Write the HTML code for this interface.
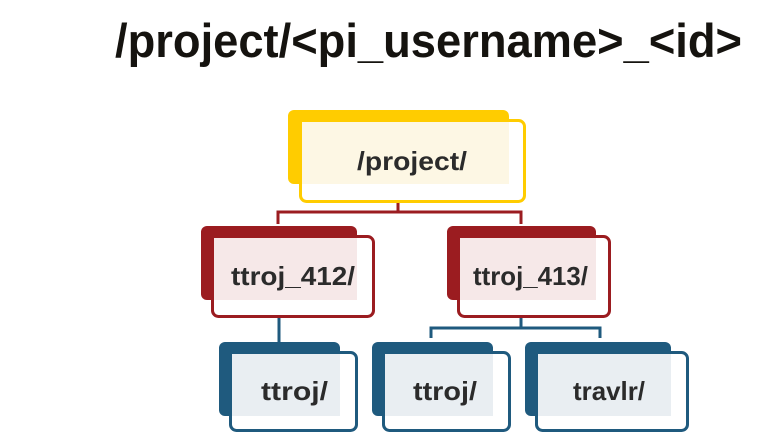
<!DOCTYPE html>
<html><head><meta charset="utf-8"><style>
html,body{margin:0;padding:0;background:#fff;}
svg{display:block}
text{font-family:"Liberation Sans",sans-serif;font-weight:bold;fill:#2b2b2b}
</style></head><body>
<svg width="783" height="435" viewBox="0 0 783 435" xmlns="http://www.w3.org/2000/svg">
<text x="115" y="57" font-size="47" textLength="627" lengthAdjust="spacingAndGlyphs" style="fill:#15130f">/project/&lt;pi_username&gt;_&lt;id&gt;</text>

<g fill="none" stroke="#9b1c20" stroke-width="3">
<path d="M398 190 V212 M278 224 V212 H521 V224"/>
</g>
<g fill="none" stroke="#1f5a7e" stroke-width="3">
<path d="M279 312 V346 M521 312 V328 M431 338 V328 H600 V338"/>
</g>

<rect x="288" y="110" width="221" height="74" rx="6" fill="#ffcc00"/>
<rect x="300.5" y="120.5" width="224" height="81" rx="6" fill="#fff" stroke="#ffcc00" stroke-width="3"/>
<rect x="302" y="122" width="207" height="62" fill="#fdf7e4"/>
<text x="357" y="170" font-size="26" textLength="110" lengthAdjust="spacingAndGlyphs">/project/</text>

<rect x="201" y="226" width="156" height="74" rx="6" fill="#9b1c20"/>
<rect x="212.5" y="236.5" width="161" height="80" rx="6" fill="#fff" stroke="#9b1c20" stroke-width="3"/>
<rect x="214" y="238" width="143" height="62" fill="#f6e8e8"/>
<text x="231" y="285" font-size="26" textLength="124" lengthAdjust="spacingAndGlyphs">ttroj_412/</text>

<rect x="447" y="226" width="149" height="74" rx="6" fill="#9b1c20"/>
<rect x="458.5" y="236.5" width="151" height="80" rx="6" fill="#fff" stroke="#9b1c20" stroke-width="3"/>
<rect x="460" y="238" width="136" height="62" fill="#f6e8e8"/>
<text x="473" y="285" font-size="26" textLength="115" lengthAdjust="spacingAndGlyphs">ttroj_413/</text>

<rect x="219" y="342" width="121" height="74" rx="6" fill="#1f5a7e"/>
<rect x="230.5" y="352.5" width="126" height="78" rx="6" fill="#fff" stroke="#1f5a7e" stroke-width="3"/>
<rect x="232" y="354" width="108" height="62" fill="#e9eef2"/>
<text x="261" y="400" font-size="26" textLength="67" lengthAdjust="spacingAndGlyphs">ttroj/</text>

<rect x="372" y="342" width="121" height="74" rx="6" fill="#1f5a7e"/>
<rect x="383.5" y="352.5" width="126" height="78" rx="6" fill="#fff" stroke="#1f5a7e" stroke-width="3"/>
<rect x="385" y="354" width="108" height="62" fill="#e9eef2"/>
<text x="413" y="400" font-size="26" textLength="64" lengthAdjust="spacingAndGlyphs">ttroj/</text>

<rect x="525" y="342" width="146" height="74" rx="6" fill="#1f5a7e"/>
<rect x="536.5" y="352.5" width="151" height="78" rx="6" fill="#fff" stroke="#1f5a7e" stroke-width="3"/>
<rect x="538" y="354" width="133" height="62" fill="#e9eef2"/>
<text x="573" y="400" font-size="26" textLength="72" lengthAdjust="spacingAndGlyphs">travlr/</text>
</svg>
</body></html>
